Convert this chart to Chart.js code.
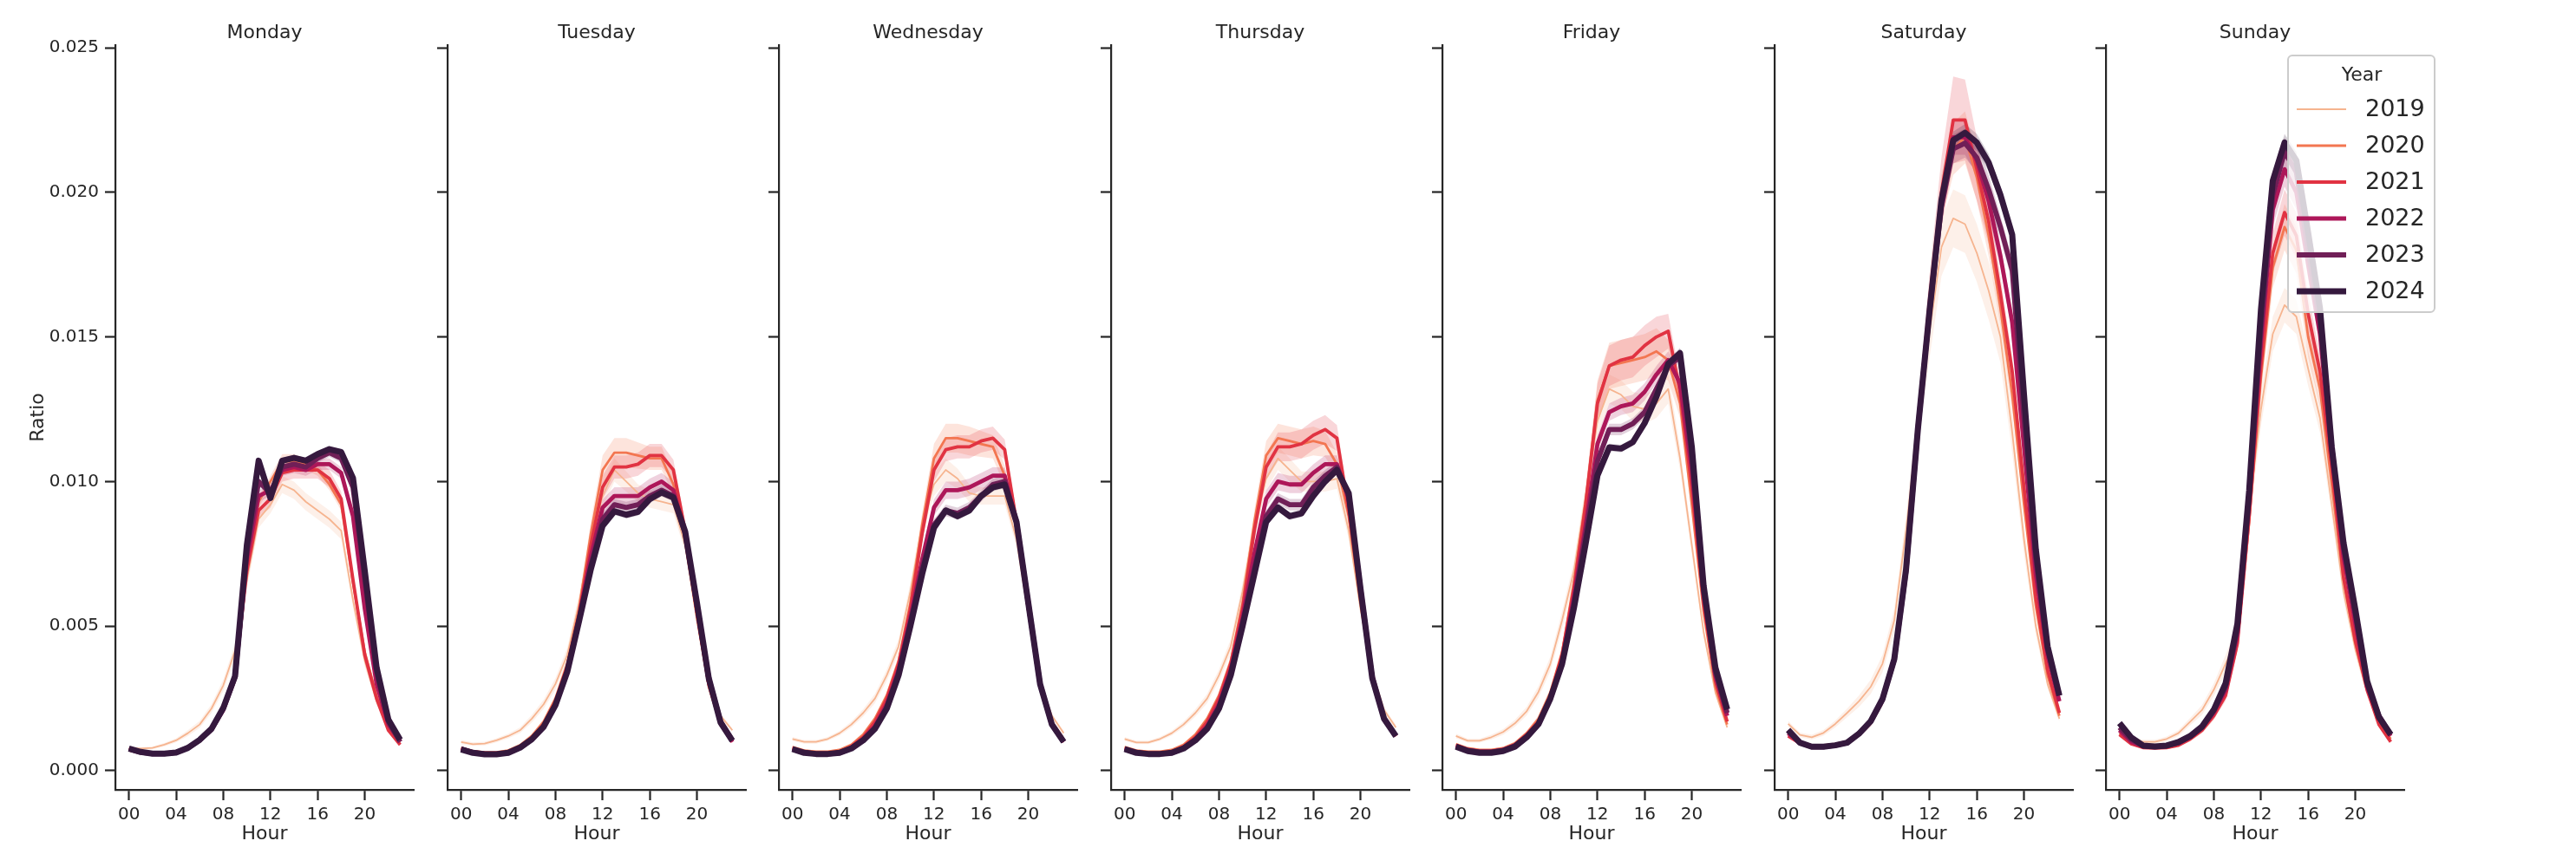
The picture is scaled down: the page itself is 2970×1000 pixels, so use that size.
<!DOCTYPE html>
<html>
<head>
<meta charset="utf-8">
<script src="https://cdn.jsdelivr.net/npm/chart.js@4.4.1/dist/chart.umd.min.js"></script>
<style>
  html, body { margin: 0; padding: 0; background: #fff; }
  #wrap { position: relative; width: 2970px; height: 1000px; overflow: hidden; background: #fff; }
  #wrap canvas { position: absolute; top: 0; }
</style>
</head>
<body>
<div id="wrap"></div>
<script>
// ---------------- data ----------------
const hours = [0,1,2,3,4,5,6,7,8,9,10,11,12,13,14,15,16,17,18,19,20,21,22,23];
const years = ['2019','2020','2021','2022','2023','2024'];
const dayNames = ['Monday','Tuesday','Wednesday','Thursday','Friday','Saturday','Sunday'];
const xTickValues = [0,4,8,12,16,20];
const xTickLabels = ['00','04','08','12','16','20'];
const yTickValues = [0,0.005,0.01,0.015,0.02,0.025];
const yTickLabels = ['0.000','0.005','0.010','0.015','0.020','0.025'];

// mean ratio per hour, one row per year (2019 .. 2024)
const mondayMean = [
  [.00078,.00077,.00079,.00090,.00105,.00130,.00160,.00215,.00295,.00415,.0066,.0087,.0092,.0099,.0097,.0093,.0090,.0087,.0083,.0059,.0038,.0024,.0015,.0010],
  [.00074,.00063,.00060,.00060,.00065,.00080,.00110,.00150,.00222,.00340,.0070,.0093,.0100,.0107,.0107,.0106,.0104,.0099,.0092,.0065,.0041,.0026,.0015,.0010],
  [.00072,.00062,.00058,.00058,.00062,.00078,.00105,.00143,.00210,.00330,.0069,.0090,.0094,.0103,.0104,.0104,.0104,.0101,.0094,.0066,.0040,.0025,.0014,.0009],
  [.00075,.00064,.00059,.00059,.00063,.00078,.00105,.00142,.00210,.00320,.0073,.0095,.0097,.0104,.0105,.0104,.0106,.0106,.0103,.0088,.0056,.0030,.0016,.0010],
  [.00076,.00064,.00059,.00059,.00063,.00079,.00106,.00144,.00215,.00325,.0076,.0100,.0096,.0105,.0106,.0105,.0108,.0110,.0108,.0098,.0066,.0034,.0017,.0010],
  [.00077,.00065,.00059,.00059,.00063,.00079,.00107,.00145,.00217,.00327,.0078,.01072,.00943,.01072,.01082,.01072,.01095,.01112,.01102,.01012,.0069,.00357,.00177,.00107]
];
const tuesdayMean = [
  [.00099,.00092,.00094,.00105,.0012,.0014,.0018,.0023,.0030,.0040,.0058,.0080,.0095,.0104,.0100,.0096,.0094,.0093,.0092,.0078,.0052,.0030,.0019,.0014],
  [.00080,.00068,.00064,.00064,.00070,.00088,.0012,.0017,.0025,.0037,.0056,.0082,.0104,.0110,.0110,.0109,.0108,.0108,.0099,.0080,.0053,.0029,.0016,.0011],
  [.00077,.00065,.00060,.00060,.00065,.00083,.00113,.0016,.0024,.0036,.0054,.0078,.0098,.0105,.0105,.0106,.0109,.0109,.0104,.0083,.0055,.0030,.0016,.0010],
  [.00076,.00064,.00059,.00059,.00063,.00081,.0011,.00155,.0023,.0035,.0053,.0074,.0091,.0095,.0095,.0095,.0098,.0100,.0097,.0082,.0056,.0031,.0017,.0010],
  [.00075,.00063,.00058,.00058,.00062,.0008,.00109,.00153,.00228,.00344,.0052,.0071,.0087,.0092,.0091,.0092,.0095,.0097,.0095,.0082,.0057,.0032,.0017,.00105],
  [.00074,.00062,.00057,.00057,.00062,.0008,.00109,.00152,.00227,.00342,.00517,.00697,.00847,.00897,.00885,.00895,.00939,.00962,.00945,.00827,.0058,.0032,.00167,.00104]
];
const wednesdayMean = [
  [.0011,.0010,.0010,.0011,.0013,.0016,.0020,.0025,.0033,.0043,.0062,.0085,.0099,.0104,.0101,.0096,.0095,.0095,.0095,.0080,.0054,.0031,.0019,.0013],
  [.00082,.0007,.00066,.00066,.00072,.0009,.00125,.0018,.0026,.0038,.0058,.0085,.0108,.0115,.0115,.0114,.0113,.0112,.0102,.0084,.0055,.0030,.0017,.0011],
  [.00078,.00066,.00061,.00061,.00066,.00084,.00116,.0017,.0025,.0037,.0056,.0082,.0104,.0111,.0112,.0112,.0114,.0115,.0111,.0086,.0056,.0030,.0016,.0010],
  [.00076,.00064,.00059,.00059,.00063,.0008,.0011,.00155,.0023,.0035,.0053,.0073,.0091,.0097,.0097,.0098,.0100,.0102,.0102,.0086,.0057,.0030,.0016,.0010],
  [.00075,.00063,.00058,.00058,.00062,.00078,.00107,.00148,.0022,.0034,.0051,.0070,.0085,.0090,.0089,.0091,.0095,.0099,.0100,.0086,.0058,.0030,.0016,.0010],
  [.00075,.00062,.00058,.00058,.00062,.00077,.00105,.00145,.00215,.0033,.0050,.0068,.0084,.0090,.0088,.0090,.0095,.0098,.0099,.0086,.0058,.0030,.0016,.0010]
];
const thursdayMean = [
  [.0011,.00098,.00098,.0011,.0013,.0016,.0020,.0025,.0033,.0043,.0062,.0085,.0101,.0108,.0104,.0100,.0100,.0100,.0101,.0083,.0056,.0034,.0021,.0015],
  [.00082,.0007,.00066,.00066,.00072,.0009,.00125,.0018,.0026,.0038,.0058,.0086,.0109,.0115,.0114,.0113,.0114,.0113,.0106,.0088,.0058,.0032,.0018,.0012],
  [.00078,.00066,.00061,.00061,.00066,.00084,.00116,.0017,.0025,.0037,.0056,.0083,.0105,.0112,.0112,.0113,.0116,.0118,.0115,.0090,.0060,.0033,.0018,.0012],
  [.00076,.00064,.00059,.00059,.00063,.0008,.0011,.00155,.0023,.0035,.0053,.0075,.0094,.0100,.0099,.0099,.0103,.0106,.0106,.0094,.0062,.0033,.0018,.0012],
  [.00075,.00063,.00058,.00058,.00062,.00078,.00107,.00148,.0022,.0034,.0051,.0070,.0088,.0094,.0092,.0092,.0098,.0102,.0105,.0095,.0063,.0032,.0018,.0012],
  [.00075,.00062,.00058,.00058,.00062,.00077,.00105,.00145,.00215,.0033,.0050,.0068,.0086,.0091,.0088,.0089,.0095,.0100,.0104,.0096,.0063,.0032,.0018,.0012]
];
const fridayMean = [
  [.0012,.00104,.00104,.00116,.00134,.00164,.00206,.00273,.00369,.0052,.0069,.0095,.0121,.0132,.0130,.0126,.0125,.0127,.0132,.0108,.0078,.0048,.0027,.0015],
  [.00092,.00078,.00072,.00072,.00078,.00095,.0013,.0018,.0027,.0041,.0065,.0093,.0128,.0140,.0141,.0142,.0143,.0145,.0142,.0127,.0092,.0055,.0029,.0016],
  [.00088,.00074,.00068,.00068,.00074,.0009,.00125,.0017,.0026,.0040,.0063,.0092,.0127,.0140,.0142,.0143,.0147,.0150,.0152,.0131,.0098,.0058,.0031,.0017],
  [.00086,.00072,.00066,.00066,.00072,.00088,.0012,.00165,.0025,.0038,.0060,.0085,.0113,.0124,.0126,.0127,.0131,.0137,.0142,.0134,.0104,.0061,.0033,.0019],
  [.00085,.0007,.00064,.00064,.0007,.00086,.00118,.00163,.0025,.0037,.0058,.0082,.0107,.0118,.0118,.0120,.0124,.0132,.0140,.0143,.0108,.0062,.0034,.0020],
  [.00083,.00068,.00062,.00062,.00068,.00083,.00116,.00161,.00249,.00369,.00562,.00786,.01021,.01118,.01114,.01136,.01202,.01293,.01407,.01444,.0112,.0064,.00357,.00212]
];
const saturdayMean = [
  [.00162,.00124,.00116,.00131,.00162,.0020,.0024,.0029,.0037,.0052,.0083,.0120,.0152,.0181,.0191,.0189,.0179,.0166,.0150,.0117,.0080,.0050,.0030,.0018],
  [.0013,.0010,.00088,.00088,.00092,.0010,.0013,.0017,.0024,.0038,.0070,.0120,.0162,.0198,.0215,.0219,.0205,.0185,.0160,.0130,.0092,.0057,.0033,.0019],
  [.0012,.00095,.00085,.00085,.0009,.00098,.00125,.00165,.0024,.0038,.0070,.0120,.0163,.0200,.0225,.0225,.0208,.0190,.0165,.0138,.0098,.0060,.0035,.0020],
  [.0013,.00096,.00084,.00084,.00089,.00097,.00127,.0017,.00245,.0038,.0069,.0118,.0160,.0197,.0219,.0219,.0211,.0197,.0178,.0155,.0112,.0068,.0040,.0024],
  [.00138,.00097,.00083,.00083,.00088,.00097,.00128,.0017,.00247,.00385,.0069,.0118,.0159,.0195,.0215,.0217,.0212,.0201,.0188,.0173,.0122,.0073,.0042,.0026],
  [.00141,.00097,.00083,.00083,.00088,.00097,.00128,.00171,.00248,.00386,.00697,.0118,.01594,.01973,.0218,.02206,.02172,.02103,.01991,.01853,.0130,.00766,.0043,.0026]
];
const sundayMean = [
  [.0014,.0011,.0010,.0010,.0011,.0013,.0017,.0021,.0028,.0037,.0046,.0090,.0125,.0151,.0161,.0157,.0139,.0122,.0092,.0062,.0042,.0027,.0017,.0011],
  [.0013,.00095,.00083,.0008,.00082,.0009,.0011,.0014,.0019,.0027,.0044,.0086,.0136,.0174,.0188,.0180,.0150,.0132,.0099,.0066,.0044,.0028,.0017,.0011],
  [.00125,.00093,.0008,.00078,.0008,.00088,.0011,.0014,.0019,.0026,.0044,.0088,.0140,.0179,.0193,.0185,.0158,.0138,.0105,.0067,.0045,.0028,.0016,.0010],
  [.0014,.001,.00085,.00082,.00085,.00095,.00116,.00148,.002,.0028,.0047,.0093,.0148,.0194,.0208,.0200,.0175,.0151,.0109,.0074,.0051,.0029,.0018,.0012],
  [.0015,.00108,.00086,.00083,.00086,.00097,.00118,.0015,.0021,.0029,.0049,.0095,.0153,.0199,.0214,.0207,.0180,.0155,.0112,.0077,.0054,.0030,.0019,.00125],
  [.00165,.00115,.00087,.00084,.00087,.00099,.0012,.00153,.00211,.00302,.00508,.00969,.01595,.0204,.02172,.0211,.0186,.0160,.0112,.00788,.00557,.0031,.00186,.00125]
];

// half-width of the confidence band per hour, same layout as the means
const mondayCi = [
  [.00006,.00005,.00005,.00006,.00007,.0001,.00012,.00015,.0002,.00025,.0003,.0003,.0003,.0003,.0003,.0003,.0003,.0003,.0003,.00025,.0002,.00012,.00008,.00006],
  [.00004,.00004,.00004,.00004,.00005,.00006,.00008,.0001,.00012,.00015,.0002,.0002,.0002,.00025,.00025,.0002,.0002,.0002,.0002,.00018,.00014,.0001,.00006,.00005],
  [.00004,.00004,.00004,.00004,.00005,.00006,.00008,.0001,.00012,.00015,.0002,.00025,.0003,.0003,.0003,.0003,.0003,.0003,.00025,.0002,.00015,.0001,.00006,.00005],
  [.00003,.00003,.00003,.00003,.00004,.00005,.00006,.00008,.0001,.00012,.00015,.0002,.0002,.0002,.0002,.0002,.0002,.0002,.0002,.00018,.00014,.0001,.00006,.00004],
  [.00003,.00003,.00003,.00003,.00003,.00004,.00005,.00006,.00008,.0001,.00012,.00015,.00015,.00015,.00015,.00015,.00015,.00015,.00015,.00014,.00012,.00008,.00005,.00003],
  [.00002,.00002,.00002,.00002,.00002,.00003,.00004,.00005,.00006,.00007,.0001,.0001,.0001,.0001,.0001,.0001,.0001,.0001,.0001,.0001,.00008,.00006,.00004,.00003]
];
const tuesdayCi = [
  [.00007,.00006,.00006,.00007,.00008,.0001,.00013,.00016,.0002,.00025,.0003,.00035,.0004,.0004,.00035,.0003,.0003,.0003,.0003,.00025,.0002,.00012,.00008,.00007],
  [.00004,.00004,.00004,.00004,.00005,.00006,.00008,.0001,.00013,.00018,.00025,.0004,.0005,.0005,.0005,.00045,.0004,.0004,.00035,.00025,.00018,.00012,.00007,.00005],
  [.00004,.00004,.00004,.00004,.00005,.00006,.00008,.0001,.00013,.00018,.00025,.0003,.0004,.0004,.0004,.0004,.0004,.0004,.00035,.00025,.00018,.00012,.00007,.00005],
  [.00003,.00003,.00003,.00003,.00004,.00005,.00006,.00008,.0001,.00013,.00018,.00022,.00028,.0003,.0003,.0003,.0003,.0003,.00028,.0002,.00015,.0001,.00006,.00004],
  [.00003,.00003,.00003,.00003,.00003,.00004,.00005,.00006,.00008,.0001,.00013,.00016,.0002,.0002,.0002,.0002,.0002,.0002,.0002,.00016,.00012,.00008,.00005,.00003],
  [.00002,.00002,.00002,.00002,.00002,.00003,.00004,.00005,.00006,.00008,.0001,.00012,.00013,.00013,.00013,.00013,.00013,.00013,.00013,.00012,.0001,.00006,.00004,.00003]
];
const wednesdayCi = [
  [.00007,.00006,.00006,.00007,.00008,.0001,.00013,.00016,.0002,.00025,.0003,.00035,.0004,.0004,.00035,.0003,.0003,.0003,.0003,.00025,.0002,.00012,.00008,.00007],
  [.00004,.00004,.00004,.00004,.00005,.00006,.00008,.0001,.00013,.00018,.00025,.0004,.0005,.0005,.0005,.0005,.00045,.0004,.00035,.00025,.00018,.00012,.00007,.00005],
  [.00004,.00004,.00004,.00004,.00005,.00006,.00008,.0001,.00013,.00018,.00025,.0003,.0004,.0004,.0004,.0004,.0004,.0004,.00035,.00025,.00018,.00012,.00007,.00005],
  [.00003,.00003,.00003,.00003,.00004,.00005,.00006,.00008,.0001,.00013,.00018,.00022,.00028,.0003,.0003,.0003,.0003,.0003,.00028,.0002,.00015,.0001,.00006,.00004],
  [.00003,.00003,.00003,.00003,.00003,.00004,.00005,.00006,.00008,.0001,.00013,.00016,.0002,.0002,.0002,.0002,.0002,.0002,.0002,.00016,.00012,.00008,.00005,.00003],
  [.00002,.00002,.00002,.00002,.00002,.00003,.00004,.00005,.00006,.00008,.0001,.00012,.00013,.00013,.00013,.00013,.00013,.00013,.00013,.00012,.0001,.00006,.00004,.00003]
];
const thursdayCi = [
  [.00007,.00006,.00006,.00007,.00008,.0001,.00013,.00016,.0002,.00025,.0003,.00035,.0004,.0004,.0004,.00035,.00035,.00035,.00035,.00028,.0002,.00014,.0001,.00008],
  [.00004,.00004,.00004,.00004,.00005,.00006,.00008,.0001,.00013,.00018,.00025,.0004,.0005,.0005,.0005,.0005,.0005,.00045,.0004,.0003,.0002,.00012,.00007,.00005],
  [.00004,.00004,.00004,.00004,.00005,.00006,.00008,.0001,.00013,.00018,.00025,.00035,.00045,.0005,.0005,.0005,.0005,.0005,.00045,.0003,.0002,.00012,.00007,.00005],
  [.00003,.00003,.00003,.00003,.00004,.00005,.00006,.00008,.0001,.00013,.00018,.00022,.0003,.0003,.0003,.0003,.0003,.0003,.0003,.00022,.00015,.0001,.00006,.00004],
  [.00003,.00003,.00003,.00003,.00003,.00004,.00005,.00006,.00008,.0001,.00013,.00016,.0002,.0002,.0002,.0002,.0002,.0002,.0002,.00018,.00012,.00008,.00005,.00003],
  [.00002,.00002,.00002,.00002,.00002,.00003,.00004,.00005,.00006,.00008,.0001,.00012,.00013,.00013,.00013,.00013,.00013,.00013,.00013,.00012,.0001,.00006,.00004,.00003]
];
const fridayCi = [
  [.00008,.00007,.00007,.00008,.0001,.00012,.00015,.0002,.00025,.0003,.00035,.0004,.0005,.0005,.0005,.0005,.0005,.0005,.0005,.0004,.0003,.0002,.0001,.00008],
  [.00005,.00004,.00004,.00004,.00005,.00006,.00008,.00011,.00015,.0002,.0003,.0005,.0007,.0008,.0008,.0008,.0008,.0008,.0007,.0005,.0003,.0002,.0001,.00006],
  [.00005,.00004,.00004,.00004,.00005,.00006,.00008,.00011,.00015,.0002,.0003,.0005,.0007,.0007,.0007,.0007,.0007,.0007,.0006,.0005,.0003,.0002,.0001,.00006],
  [.00003,.00003,.00003,.00003,.00004,.00005,.00006,.00008,.0001,.00013,.00018,.00025,.0003,.0003,.0003,.0003,.0003,.0003,.0003,.00025,.0002,.00012,.00007,.00004],
  [.00003,.00003,.00003,.00003,.00003,.00004,.00005,.00006,.00008,.0001,.00013,.00016,.0002,.0002,.0002,.0002,.0002,.0002,.0002,.0002,.00015,.0001,.00006,.00004],
  [.00002,.00002,.00002,.00002,.00002,.00003,.00004,.00005,.00006,.00008,.0001,.00012,.00013,.00013,.00013,.00013,.00014,.00015,.00016,.00018,.00014,.00008,.00005,.00003]
];
const saturdayCi = [
  [.0001,.00008,.00008,.0001,.00012,.00015,.0002,.00025,.0003,.0004,.0005,.0007,.0009,.001,.001,.001,.001,.001,.0009,.0007,.0005,.0003,.00015,.0001],
  [.00006,.00005,.00005,.00005,.00006,.00007,.00009,.00012,.00016,.00022,.0003,.0005,.0007,.0008,.0009,.0009,.0008,.0007,.0006,.0005,.0003,.0002,.0001,.00007],
  [.00006,.00005,.00005,.00005,.00006,.00007,.00009,.00012,.00016,.00022,.0003,.0006,.0009,.0012,.0015,.0014,.0011,.0008,.0006,.0005,.0003,.0002,.0001,.00007],
  [.00004,.00004,.00004,.00004,.00004,.00005,.00007,.00009,.00012,.00016,.00022,.0003,.0004,.0005,.0006,.0006,.0005,.0005,.0004,.0004,.0003,.00018,.0001,.00006],
  [.00004,.00003,.00003,.00003,.00004,.00004,.00005,.00007,.0001,.00013,.00018,.00025,.0003,.0004,.0005,.0005,.0005,.0005,.0004,.0004,.0003,.00015,.00008,.00005],
  [.00003,.00002,.00002,.00002,.00003,.00003,.00004,.00005,.00007,.0001,.00013,.00018,.00022,.00025,.0003,.0003,.0003,.0003,.0003,.0003,.0002,.00012,.00007,.00004]
];
const sundayCi = [
  [.0001,.00008,.00007,.00007,.00008,.0001,.00013,.00017,.00022,.0003,.0004,.0005,.0006,.0006,.0006,.0006,.0006,.0005,.0004,.0003,.0002,.00015,.0001,.00007],
  [.00006,.00005,.00004,.00004,.00005,.00006,.00008,.0001,.00013,.00018,.00025,.0004,.0006,.0007,.0008,.0008,.0007,.0006,.0005,.0003,.0002,.00012,.00007,.00005],
  [.00006,.00005,.00004,.00004,.00005,.00006,.00008,.0001,.00013,.00018,.00025,.0004,.0006,.0007,.0008,.0008,.0007,.0006,.0005,.0003,.0002,.00012,.00007,.00005],
  [.00005,.00004,.00004,.00004,.00004,.00005,.00007,.00009,.00012,.00016,.00022,.0003,.0005,.0006,.0006,.0006,.0005,.0004,.0003,.00025,.00018,.0001,.00006,.00004],
  [.00004,.00003,.00003,.00003,.00004,.00004,.00005,.00007,.0001,.00013,.00018,.00025,.0004,.0005,.0005,.0005,.0004,.0004,.0003,.0002,.00015,.0001,.00006,.00004],
  [.00003,.00002,.00002,.00002,.00003,.00003,.00004,.00005,.00007,.0001,.00013,.00018,.00025,.0003,.0003,.0003,.0003,.00025,.0002,.00015,.0001,.00008,.00005,.00003]
];

const dayMeans = [mondayMean, tuesdayMean, wednesdayMean, thursdayMean, fridayMean, saturdayMean, sundayMean];
const dayCis = [mondayCi, tuesdayCi, wednesdayCi, thursdayCi, fridayCi, saturdayCi, sundayCi];

// ---------------- style ----------------
const FONT = "'DejaVu Sans', sans-serif";
const INK = '#262626';
const yearColors = ['#f6b48f','#f37651','#e13342','#ad1759','#701f57','#35193e'];
const yearWidths = [1.8, 2.8, 3.8, 4.8, 5.8, 7];
const panelLeft = [133, 516, 898, 1281, 1663, 2046, 2428];
const axisWidth = 344;

function rgba(hex, a) {
  const n = parseInt(hex.slice(1), 16);
  return `rgba(${(n >> 16) & 255},${(n >> 8) & 255},${n & 255},${a})`;
}

// legend drawn like the seaborn one (only on the Sunday panel)
const yearLegend = {
  id: 'yearLegend',
  afterDraw(chart) {
    const ctx = chart.ctx;
    const ox = chart.chartArea.right - 2772;
    const X = v => v + ox;
    ctx.save();
    // frame
    const x0 = X(2638), y0 = 64, w = 169, h = 296, r = 5;
    ctx.beginPath();
    ctx.moveTo(x0 + r, y0);
    ctx.lineTo(x0 + w - r, y0); ctx.arcTo(x0 + w, y0, x0 + w, y0 + r, r);
    ctx.lineTo(x0 + w, y0 + h - r); ctx.arcTo(x0 + w, y0 + h, x0 + w - r, y0 + h, r);
    ctx.lineTo(x0 + r, y0 + h); ctx.arcTo(x0, y0 + h, x0, y0 + h - r, r);
    ctx.lineTo(x0, y0 + r); ctx.arcTo(x0, y0, x0 + r, y0, r);
    ctx.closePath();
    ctx.fillStyle = 'rgba(255,255,255,0.8)';
    ctx.fill();
    ctx.strokeStyle = '#cccccc';
    ctx.lineWidth = 2;
    ctx.stroke();
    // title
    ctx.fillStyle = INK;
    ctx.textBaseline = 'middle';
    ctx.textAlign = 'center';
    ctx.font = `22px ${FONT}`;
    ctx.fillText('Year', X(2723), 87);
    // entries
    ctx.textAlign = 'left';
    ctx.font = `27px ${FONT}`;
    years.forEach((yr, k) => {
      const y = 126 + k * 42;
      ctx.beginPath();
      ctx.moveTo(X(2648), y);
      ctx.lineTo(X(2705), y);
      ctx.strokeStyle = yearColors[k];
      ctx.lineWidth = yearWidths[k];
      ctx.lineCap = 'butt';
      ctx.stroke();
      ctx.fillStyle = INK;
      ctx.fillText(yr, X(2727), y + 1);
    });
    ctx.restore();
  }
};

const wrap = document.getElementById('wrap');

function makePanel(i) {
  const means = dayMeans[i];
  const cis = dayCis[i];
  const cw = i === 6 ? 520 : 500;
  const canvas = document.createElement('canvas');
  canvas.width = cw;
  canvas.height = 1000;
  canvas.style.width = cw + 'px';
  canvas.style.height = '1000px';
  canvas.style.left = (panelLeft[i] - 133) + 'px';
  wrap.appendChild(canvas);

  const datasets = [];
  // confidence bands first (drawn under every line)
  years.forEach((yr, k) => {
    datasets.push({
      label: yr + ' upper',
      data: hours.map((h, j) => ({ x: h, y: means[k][j] + cis[k][j] })),
      borderWidth: 0, pointRadius: 0, tension: 0,
      backgroundColor: rgba(yearColors[k], 0.2),
      fill: '+1',
      order: 6 + (5 - k)
    });
    datasets.push({
      label: yr + ' lower',
      data: hours.map((h, j) => ({ x: h, y: means[k][j] - cis[k][j] })),
      borderWidth: 0, pointRadius: 0, tension: 0,
      fill: false,
      order: 6 + (5 - k)
    });
  });
  // mean lines, 2024 on top
  years.forEach((yr, k) => {
    datasets.push({
      label: yr,
      data: hours.map((h, j) => ({ x: h, y: means[k][j] })),
      borderColor: yearColors[k],
      borderWidth: yearWidths[k],
      borderJoinStyle: 'round',
      pointRadius: 0, tension: 0, fill: false,
      order: 5 - k
    });
  });

  const tickFont = { family: FONT, size: 20 };
  const labelFont = { family: FONT, size: 22 };

  new Chart(canvas, {
    type: 'line',
    data: { datasets },
    options: {
      responsive: false,
      animation: false,
      devicePixelRatio: 1,
      layout: { padding: { left: 0, right: cw - 133 - axisWidth, top: 0, bottom: 0 } },
      plugins: {
        legend: { display: false },
        tooltip: { enabled: false },
        title: {
          display: true, text: dayNames[i], color: INK, fullSize: false,
          font: { family: FONT, size: 22, weight: 'normal' },
          padding: { top: 25, bottom: 0.6 }
        }
      },
      scales: {
        x: {
          type: 'linear', min: -1.15, max: 24.15,
          afterBuildTicks: s => { s.ticks = xTickValues.map(v => ({ value: v })); },
          afterFit: s => { s.height = 89; },
          ticks: {
            callback: (v, idx) => xTickLabels[idx],
            font: tickFont, color: INK, padding: 5, maxRotation: 0, autoSkip: false
          },
          grid: { display: true, drawOnChartArea: false, drawTicks: true, tickLength: 12, tickWidth: 2.2, tickColor: INK, color: INK },
          border: { display: true, color: INK, width: 2.2 },
          title: { display: true, text: 'Hour', color: INK, font: labelFont, padding: { top: 0, bottom: 24.5 } }
        },
        y: {
          type: 'linear', min: -0.00066, max: 0.02509,
          afterBuildTicks: s => { s.ticks = yTickValues.map(v => ({ value: v })); },
          afterFit: s => { s.width = 133; },
          ticks: {
            callback: (v, idx) => (i === 0 ? yTickLabels[idx] : ''),
            font: tickFont, color: INK, padding: 7
          },
          grid: { display: true, drawOnChartArea: false, drawTicks: true, tickLength: 12, tickWidth: 2.2, tickColor: INK, color: INK },
          border: { display: true, color: INK, width: 2.2 },
          title: { display: i === 0, text: 'Ratio', color: INK, font: labelFont, padding: { top: 31, bottom: 0 } }
        }
      }
    },
    plugins: i === 6 ? [yearLegend] : []
  });
}

for (let i = 0; i < 7; i++) makePanel(i);
</script>
</body>
</html>
